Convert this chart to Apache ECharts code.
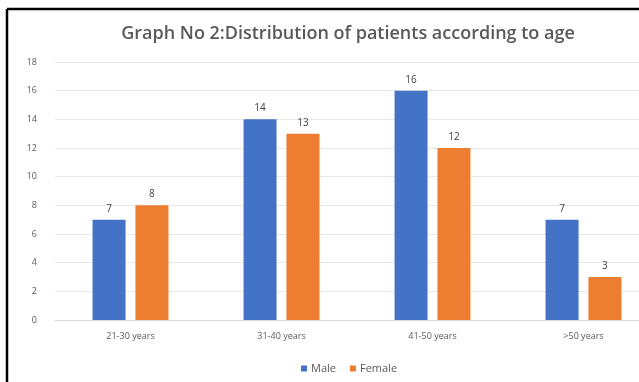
<!DOCTYPE html>
<html>
<head>
<meta charset="utf-8">
<script src="https://cdn.jsdelivr.net/npm/echarts@6/dist/echarts.min.js"></script>
<style>
  html, body { margin: 0; padding: 0; background: #fff; overflow: hidden; }
  /* canvas is wider than the window; the right edge of the plot runs off-frame */
  #chart { width: 664px; height: 382px; }
</style>
</head>
<body>
<div id="chart"></div>
<script>
// Age groups and patient counts by sex
const ageGroups = ['21-30 years', '31-40 years', '41-50 years', '>50 years'];
const maleCounts = [7, 14, 16, 7];
const femaleCounts = [8, 13, 12, 3];
const yTicks = { min: 0, max: 18, step: 2 };

const chart = echarts.init(document.getElementById('chart'));
const labelFont = { color: '#595959', fontSize: 9, fontFamily: 'Open Sans' };
const valueLabel = { show: true, position: 'top', distance: 6, color: '#404040', fontSize: 10, fontFamily: 'Open Sans' };

chart.setOption({
  animation: false,
  title: {
    text: 'Graph No 2:Distribution of patients according to age',
    left: 343,
    textAlign: 'center',
    top: 20,
    textStyle: { color: '#595959', fontSize: 18, fontWeight: 600, fontFamily: 'Open Sans' }
  },
  legend: {
    top: 358,
    left: 296,
    itemWidth: 6,
    itemHeight: 6,
    itemGap: 14,
    icon: 'rect',
    textStyle: { color: '#595959', fontSize: 11, fontFamily: 'Open Sans', padding: [0, 0, 0, -1] },
    data: ['Male', 'Female']
  },
  grid: { left: 55, top: 62, width: 604, height: 258 },
  xAxis: {
    type: 'category',
    data: ageGroups,
    axisTick: { show: false },
    axisLine: { lineStyle: { color: '#d9d9d9' } },
    axisLabel: Object.assign({ margin: 12 }, labelFont)
  },
  yAxis: {
    type: 'value',
    min: yTicks.min,
    max: yTicks.max,
    interval: yTicks.step,
    axisLine: { show: false },
    axisTick: { show: false },
    splitLine: { lineStyle: { color: '#e8e8e8' } },
    axisLabel: Object.assign({ margin: 18 }, labelFont)
  },
  series: [
    {
      name: 'Male',
      type: 'bar',
      data: maleCounts,
      barWidth: 33,
      barGap: '30%',
      itemStyle: { color: '#4472C4' },
      label: valueLabel
    },
    {
      name: 'Female',
      type: 'bar',
      data: femaleCounts,
      barWidth: 33,
      barGap: '30%',
      itemStyle: { color: '#ED7D31' },
      label: valueLabel
    }
  ],
  graphic: [
    { type: 'line', shape: { x1: 7, y1: 9, x2: 664, y2: 9 }, style: { stroke: '#000', lineWidth: 2.5 } },
    { type: 'line', shape: { x1: 7, y1: 9, x2: 7, y2: 382 }, style: { stroke: '#000', lineWidth: 2.5 } }
  ]
});
</script>
</body>
</html>
